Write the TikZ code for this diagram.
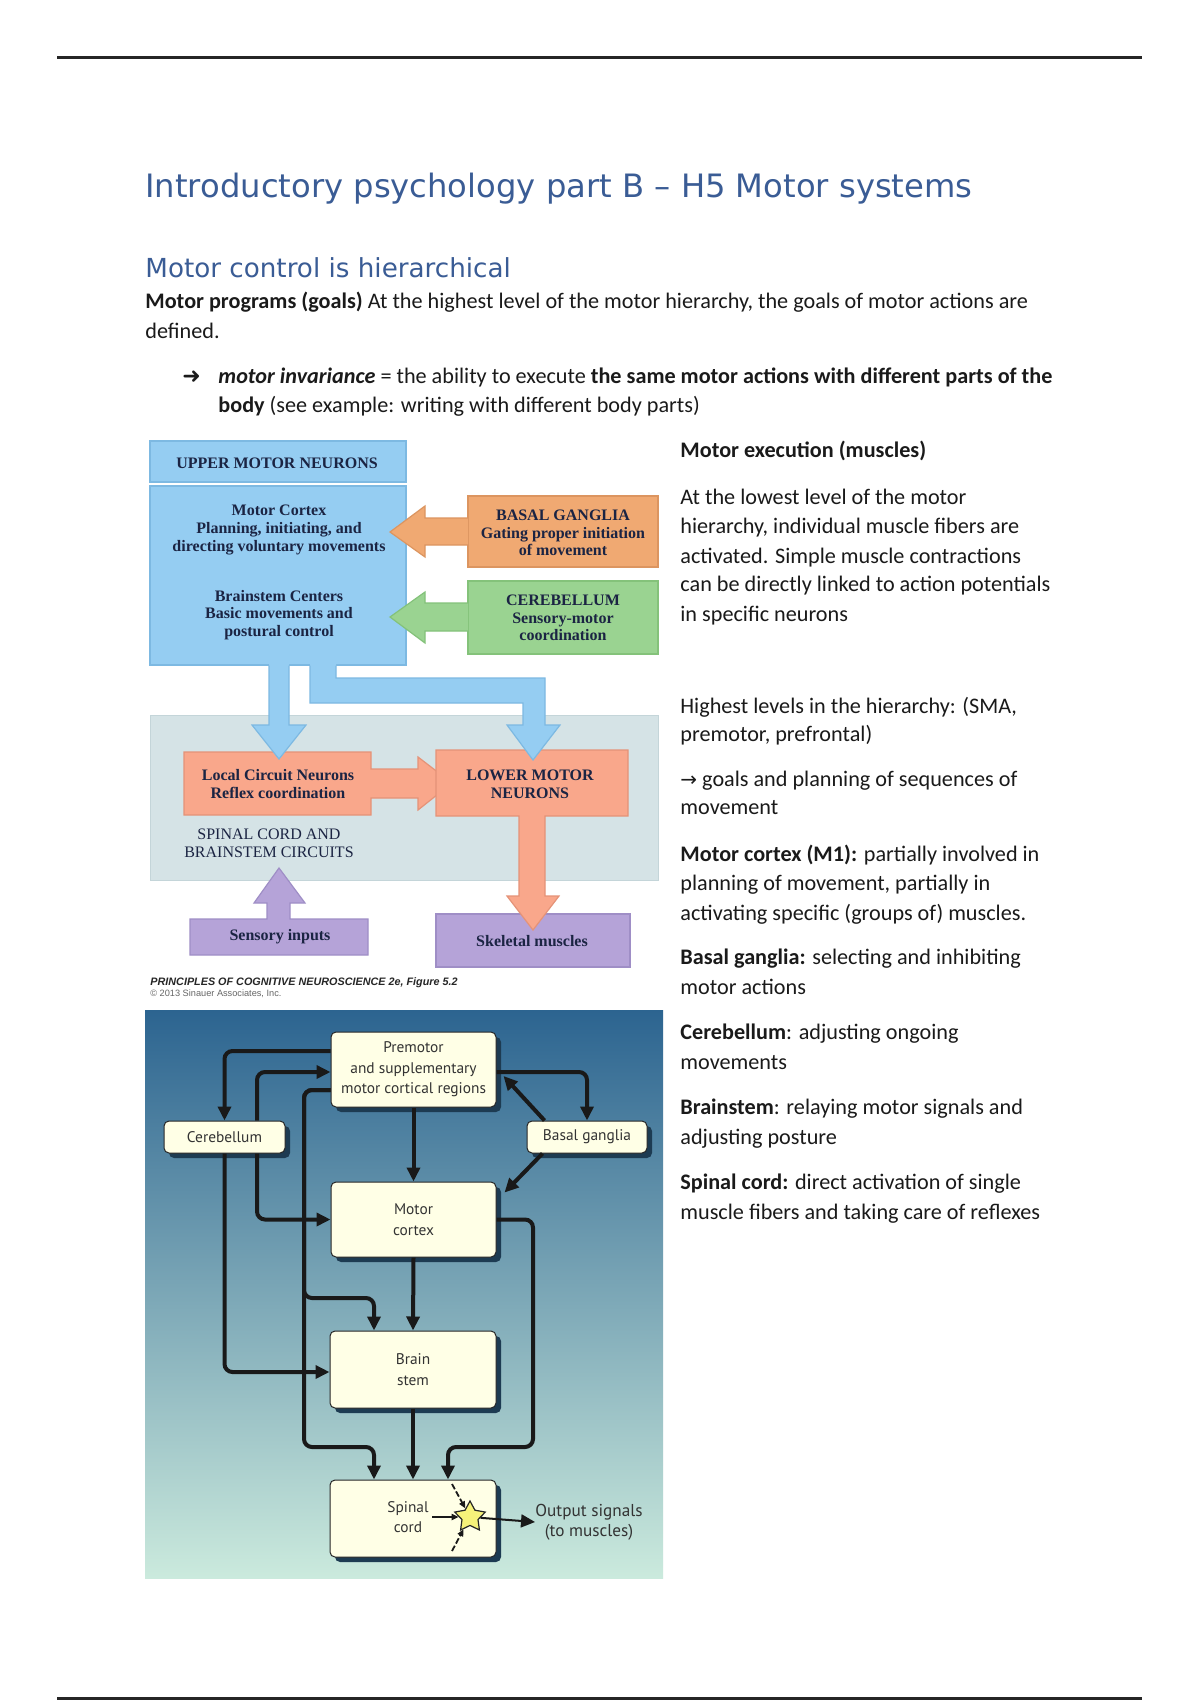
\documentclass[tikz,border=0pt]{standalone}
\usepackage{fontspec}
\setmainfont{Carlito}
\newfontfamily\headfont{DejaVu Sans}
\newfontfamily\symfont{DejaVu Sans}
\newfontfamily\figserif{Liberation Serif}
\newfontfamily\figsans{PT Sans}
\newfontfamily\capfont{Liberation Sans}
\usetikzlibrary{arrows.meta,shapes.geometric,shadows,calc}
\definecolor{headblue}{HTML}{3A5C95}
\definecolor{bodyc}{HTML}{1A1A1A}
\definecolor{bluef}{HTML}{95CDF2}
\definecolor{bluel}{HTML}{7DB9E2}
\definecolor{orangef}{HTML}{F0A972}
\definecolor{orangel}{HTML}{DC9560}
\definecolor{greenf}{HTML}{9AD391}
\definecolor{greenl}{HTML}{84C27A}
\definecolor{salmonf}{HTML}{F9A78B}
\definecolor{salmonl}{HTML}{E59378}
\definecolor{grayf}{HTML}{D5E3E6}
\definecolor{grayl}{HTML}{C4D5D9}
\definecolor{purplef}{HTML}{B5A3D8}
\definecolor{purplel}{HTML}{9F8EC6}
\definecolor{navy}{HTML}{1B2443}
\definecolor{cream}{HTML}{FFFFE6}
\definecolor{shadowc}{HTML}{1D3B52}
\definecolor{gradtop}{HTML}{2C6490}
\definecolor{gradmid}{HTML}{6A9AB3}
\definecolor{gradbot}{HTML}{CBEADD}
\definecolor{staryellow}{HTML}{F6F27A}
\begin{document}
\begin{tikzpicture}[x=0.5pt,y=-0.5pt,
  body/.style={anchor=base west, inner sep=0pt, font=\fontsize{11.1}{13}\selectfont, text=bodyc},
  figtxt/.style={inner sep=0pt, align=center, text=navy, font=\figserif\bfseries\fontsize{8}{8.8}\selectfont},
  lbox/.style={draw=black!85, line width=0.5pt, fill=cream, rounded corners=2.5pt,
    drop shadow={shadow xshift=2.5pt, shadow yshift=-2.5pt, fill=shadowc, opacity=1},
    font=\figsans\fontsize{7.7}{10.2}\selectfont, text=black!80, align=center, inner sep=0pt},
  conn/.style={draw=black!90, line width=2pt, rounded corners=4pt, -{Triangle[length=7pt,width=6.5pt]}},
  thinarr/.style={draw=black!90, line width=0.9pt, -{Triangle[length=3.5pt,width=3pt]}}
]
\useasboundingbox (0,0) rectangle (1200,1700);
\fill[white] (0,0) rectangle (1200,1700);
% page rules
\draw[line width=1.3pt, black!85] (57,57.5) -- (1142,57.5);
\draw[line width=1.3pt, black!85] (57,1698.5) -- (1142,1698.5);

% headings and body text
\node[anchor=base west, inner sep=0pt, text=headblue, font=\headfont\fontsize{16.1}{18}\selectfont] (title) at (145,198) {Introductory psychology part B – H5 Motor systems};
\node[anchor=base west, inner sep=0pt, text=headblue, font=\headfont\fontsize{13.1}{15}\selectfont] (sub) at (145,278) {Motor control is hierarchical};
\node[body] (p1) at (145,309) {\textbf{Motor programs (goals)} At the highest level of the motor hierarchy, the goals of motor actions are};
\node[body] (p2) at (145,339) {defined.};
\node[body, font=\symfont\bfseries\fontsize{11}{13}\selectfont] (bul) at (182,384) {➜};
\node[body] (p3) at (218,384) {\textbf{\textit{motor invariance}} = the ability to execute \textbf{the same motor actions with different parts of the}};
\node[body] (p4) at (218,413) {\textbf{body} (see example: writing with different body parts)};

% right column
\node[body] (r1) at (680,458) {\textbf{Motor execution (muscles)}};
\node[body] (r2) at (680,504) {At the lowest level of the motor};
\node[body] (r3) at (680,533) {hierarchy, individual muscle fibers are};
\node[body] (r4) at (680,563) {activated. Simple muscle contractions};
\node[body] (r5) at (680,591) {can be directly linked to action potentials};
\node[body] (r6) at (680,621) {in specific neurons};
\node[body] (r7) at (680,713) {Highest levels in the hierarchy: (SMA,};
\node[body] (r8) at (680,741) {premotor, prefrontal)};
\node[body] (r9) at (680,786) {{\symfont\fontsize{10}{13}\selectfont →} goals and planning of sequences of};
\node[body] (r10) at (680,814) {movement};
\node[body] (r11) at (680,861) {\textbf{Motor cortex (M1):} partially involved in};
\node[body] (r12) at (680,890) {planning of movement, partially in};
\node[body] (r13) at (680,920) {activating specific (groups of) muscles.};
\node[body] (r14) at (680,964) {\textbf{Basal ganglia:} selecting and inhibiting};
\node[body] (r15) at (680,994) {motor actions};
\node[body] (r16) at (680,1039) {\textbf{Cerebellum}: adjusting ongoing};
\node[body] (r17) at (680,1069) {movements};
\node[body] (r18) at (680,1114) {\textbf{Brainstem}: relaying motor signals and};
\node[body] (r19) at (680,1144) {adjusting posture};
\node[body] (r20) at (680,1189) {\textbf{Spinal cord:} direct activation of single};
\node[body] (r21) at (680,1219) {muscle fibers and taking care of reflexes};

% ===== upper figure =====
\filldraw[fill=grayf, draw=grayl, line width=0.5pt] (150,715) rectangle (658,880);
\filldraw[fill=bluef, draw=bluel, line width=0.6pt] (150,441) rectangle (406,482);
\filldraw[fill=bluef, draw=bluel, line width=0.6pt] (150,486) rectangle (406,665);
\filldraw[fill=orangef, draw=orangel, line width=0.6pt] (468,496) rectangle (658,567);
\filldraw[fill=greenf, draw=greenl, line width=0.6pt] (468,581) rectangle (658,654);
% orange arrow
\filldraw[fill=orangef, draw=orangel, line width=0.6pt] (468,518) -- (425,518) -- (425,506) -- (390,532) -- (425,557) -- (425,545) -- (468,545);
% green arrow
\filldraw[fill=greenf, draw=greenl, line width=0.6pt] (468,603) -- (425,603) -- (425,592) -- (390,617) -- (425,643) -- (425,631) -- (468,631);
% skeletal muscles box
\filldraw[fill=purplef, draw=purplel, line width=0.6pt] (436,914) rectangle (630,967);
% local circuit box + arrow
\filldraw[fill=salmonf, draw=salmonl, line width=0.6pt] (184,752) -- (371,752) -- (371,769) -- (418,769) -- (418,757) -- (452,783) -- (418,810) -- (418,798) -- (371,798) -- (371,815) -- (184,815) -- cycle;
% lower motor neurons box + arrow
\filldraw[fill=salmonf, draw=salmonl, line width=0.6pt] (436,750) -- (628,750) -- (628,816) -- (545,816) -- (545,896) -- (559,896) -- (533,930) -- (507,896) -- (519,896) -- (519,816) -- (436,816) -- cycle;
% blue arrows
\fill[bluef] (269,664) -- (269,725) -- (252,725) -- (279,759) -- (306,725) -- (289,725) -- (289,664) -- cycle;
\draw[bluel, line width=0.6pt] (269,665.5) -- (269,725) -- (252,725) -- (279,759) -- (306,725) -- (289,725) -- (289,665.5);
\fill[bluef] (310,664) -- (336,664) -- (336,678) -- (545,678) -- (545,725) -- (560,725) -- (533,760) -- (507,725) -- (523,725) -- (523,703) -- (310,703) -- cycle;
\draw[bluel, line width=0.6pt] (310,665.5) -- (310,703) -- (523,703) -- (523,725) -- (507,725) -- (533,760) -- (560,725) -- (545,725) -- (545,678) -- (336,678) -- (336,665.5);
% sensory inputs box + arrow
\filldraw[fill=purplef, draw=purplel, line width=0.6pt] (190,919) -- (267,919) -- (267,903) -- (254,903) -- (279,868) -- (305,903) -- (290,903) -- (290,919) -- (368,919) -- (368,955) -- (190,955) -- cycle;

% upper figure texts
\node[figtxt] (umn) at (277,463) {UPPER MOTOR NEURONS};
\node[figtxt] (mctx) at (279,530) {Motor Cortex\\Planning, initiating, and\\directing voluntary movements};
\node[figtxt] (bsc) at (279,615) {Brainstem Centers\\Basic movements and\\postural control};
\node[figtxt] (bg) at (563,533) {BASAL GANGLIA\\Gating proper initiation\\of movement};
\node[figtxt] (cb) at (563,618) {CEREBELLUM\\Sensory-motor\\coordination};
\node[figtxt] (lcn) at (278,784) {Local Circuit Neurons\\Reflex coordination};
\node[figtxt] (lmn) at (530,784) {LOWER MOTOR\\NEURONS};
\node[figtxt, font=\figserif\fontsize{8}{8.8}\selectfont] (scb) at (269,843) {SPINAL CORD AND\\BRAINSTEM CIRCUITS};
\node[figtxt] (sens) at (280,937) {Sensory inputs};
\node[figtxt] (skel) at (532,941) {Skeletal muscles};
\node[anchor=base west, inner sep=0pt, text=black!85, font=\capfont\bfseries\itshape\fontsize{5.4}{6}\selectfont] (cap1) at (150,985) {PRINCIPLES OF COGNITIVE NEUROSCIENCE 2e, Figure 5.2};
\node[anchor=base west, inner sep=0pt, text=black!60, font=\capfont\fontsize{4.6}{5}\selectfont] (cap2) at (150,996) {\textcopyright\ 2013 Sinauer Associates, Inc.};

% ===== lower figure =====
\shade[top color=gradtop, middle color=gradmid, bottom color=gradbot] (145,1010) rectangle (663,1578);

\node[lbox, minimum width=82.5pt, minimum height=37.5pt] (premotor) at (413.5,1069.5) {Premotor\\and supplementary\\motor cortical regions};
\node[lbox, minimum width=60.5pt, minimum height=16pt] (cereb) at (224.5,1137) {Cerebellum};
\node[lbox, minimum width=60pt, minimum height=16pt] (basal) at (587,1137) {Basal ganglia};
\node[lbox, minimum width=82.5pt, minimum height=37.5pt] (motorctx) at (413.5,1219.5) {Motor\\cortex};
\node[lbox, minimum width=83pt, minimum height=38.5pt] (brainstem) at (413,1369.5) {Brain\\stem};
\node[lbox, minimum width=83pt, minimum height=38.5pt] (spinal) at (413,1518.5) {};
\node[inner sep=0pt, align=center, font=\figsans\fontsize{7.7}{10.2}\selectfont, text=black!80] (spintxt) at (408,1517) {Spinal\\cord};

\coordinate (bendA) at (304,1298);
\coordinate (bendB) at (304,1447);
\coordinate (bendC) at (533,1447);

% connectors
\draw[conn] ([yshift=9.25pt]premotor.west) -| (cereb.north);
\draw[conn] ([xshift=16.25pt]cereb.north) |- ([yshift=-1.25pt]premotor.west);
\draw[conn] ([xshift=16.25pt]cereb.south) |- (motorctx.west);
\draw[conn] (cereb.south) |- ([yshift=-1.25pt]brainstem.west);
\draw[conn] ([yshift=-10.25pt]premotor.west) -| (bendA) -| ([xshift=-19.5pt]brainstem.north);
\draw[conn] ([yshift=-10.25pt]premotor.west) -| (bendB) -| ([xshift=-19.5pt]spinal.north);
\draw[conn] (premotor.south) -- (motorctx.north);
\draw[conn] (motorctx.south) -- (brainstem.north);
\draw[conn] (brainstem.south) -- (spinal.north);
\draw[conn] (motorctx.east) -| (bendC) -| ([xshift=17.5pt]spinal.north);
\draw[conn] ([yshift=-1.25pt]premotor.east) -| (basal.north);
\draw[conn, rounded corners=0pt] ([xshift=9pt]basal.north west) -- ([xshift=3.5pt,yshift=-3.25pt]premotor.east);
\draw[conn, rounded corners=0pt] ([xshift=8pt]basal.south west) -- ([xshift=4pt,yshift=-5.5pt]motorctx.north east);

% star and signals in spinal cord
\node[star, star points=5, star point ratio=1.9, minimum size=16pt, inner sep=0pt, fill=staryellow, draw=black!85, line width=0.6pt] (star) at (470,1517) {};
\coordinate (inA) at (452,1484);
\coordinate (inB) at (432,1517);
\coordinate (inC) at (452,1551);
\draw[thinarr, dash pattern=on 3pt off 1.2pt] (inA) -- (star);
\draw[thinarr] (inB) -- (star);
\draw[thinarr, dash pattern=on 3pt off 1.2pt] (inC) -- (star);
\node[inner sep=0pt, align=center, font=\figsans\fontsize{8.6}{10}\selectfont, text=black!80] (outlbl) at (589,1522) {Output signals\\(to muscles)};
\draw[conn, line width=1pt] (star) -- (outlbl.west);
\end{tikzpicture}
\end{document}
